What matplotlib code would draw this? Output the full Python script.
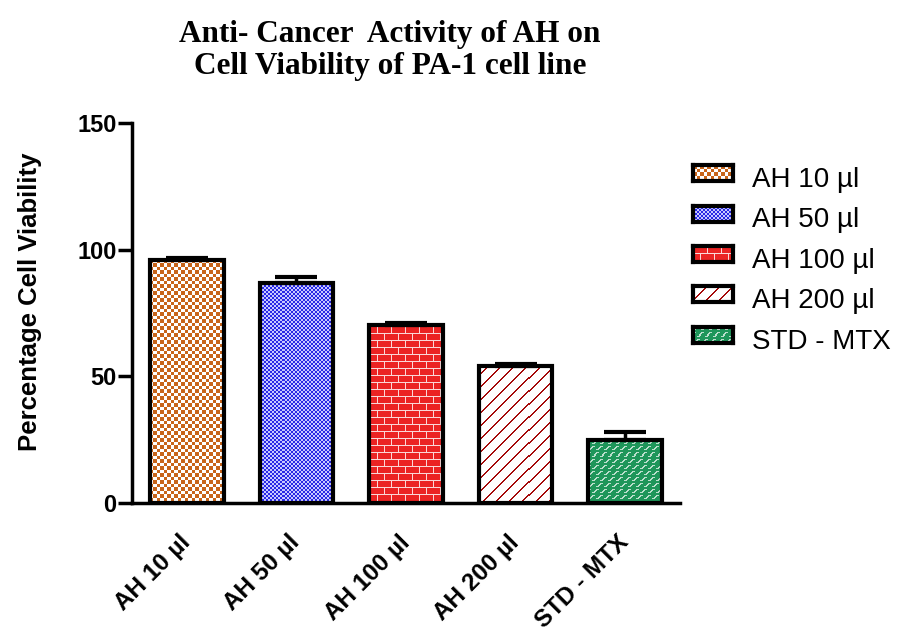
import numpy as np
import matplotlib
matplotlib.use("Agg")
import matplotlib.pyplot as plt

# values
groups = ["AH 10 µl", "AH 50 µl", "AH 100 µl", "AH 200 µl", "STD - MTX"]
viability = [95.8, 86.8, 70.2, 54.0, 25.0]
sem = [1.0, 2.6, 0.8, 0.8, 3.2]
textures = ["checker", "dots", "brick", "diag", "green"]

ORANGE = np.array([200, 100, 25]) / 255
BLUE = np.array([40, 40, 230]) / 255
LBLUE = np.array([200, 200, 255]) / 255
RED = np.array([235, 35, 35]) / 255
PINK = np.array([250, 215, 215]) / 255
DRED = np.array([165, 10, 10]) / 255
GREEN = np.array([30, 150, 90]) / 255
WHITE = np.array([1.0, 1.0, 1.0])


def make_tex(kind, h, w):
    i, j = np.mgrid[0:h, 0:w]
    img = np.ones((h, w, 3))
    if kind == "checker":
        m = ((i * 2 // 7) + (j * 2 // 7)) % 2 == 0
        img[m] = ORANGE
    elif kind == "dots":
        img[:] = BLUE
        m = ((i // 2) + (j // 2)) % 2 == 0
        img[m] = LBLUE
    elif kind == "brick":
        img[:] = RED
        row = i // 7
        m = (i % 7 == 0) | (((j + (row % 2) * 7) % 14) == 0)
        img[m] = PINK
    elif kind == "diag":
        m = ((i + j) % 13) < 2
        img[m] = DRED
    elif kind == "green":
        img[:] = GREEN
        tile = np.array([
            [0, 0, 0, 0, 1, 1, 1, 0],
            [0, 0, 0, 1, 1, 0, 0, 0],
            [0, 0, 1, 1, 0, 0, 0, 0],
            [1, 1, 1, 0, 0, 0, 0, 0],
            [0, 0, 0, 0, 0, 0, 0, 0],
            [0, 0, 0, 0, 0, 0, 0, 0],
        ], dtype=bool)
        th, tw = tile.shape
        m = tile[(i % th), ((j + (i // th) * 4) % tw)]
        img[m] = 0.3 * GREEN + 0.7 * WHITE
    return img


plt.rcParams["font.family"] = ["Liberation Sans", "DejaVu Sans"]

fig = plt.figure(figsize=(8.97, 6.33), dpi=100)
ax = fig.add_axes([132 / 897, 1 - 503 / 633, 548 / 897, 380 / 633])

x = np.arange(len(groups))
bars = ax.bar(x, viability, width=0.67, facecolor="none", edgecolor="black",
              linewidth=3, zorder=3)
ax.errorbar(x, viability, yerr=[np.zeros(len(sem)), sem], fmt="none",
            ecolor="black", elinewidth=2.5, capsize=15, capthick=3, zorder=4)

xlim = (-0.5, 4.5)
ylim = (0, 150)
for b, kind in zip(bars, textures):
    im = ax.imshow(make_tex(kind, 380, 548), extent=(*xlim, *ylim),
                   aspect="auto", interpolation="nearest", zorder=2)
    im.set_clip_path(b)
ax.set_xlim(*xlim)
ax.set_ylim(*ylim)

for s in ["top", "right"]:
    ax.spines[s].set_visible(False)
for s in ["left", "bottom"]:
    ax.spines[s].set_linewidth(2.5)

ax.set_yticks([0, 50, 100, 150])
ax.tick_params(axis="y", length=10, width=2.5, pad=1, labelsize=17)
for t in ax.get_yticklabels():
    t.set_fontweight("bold")
ax.set_xticks(x)
ax.set_xticklabels(groups, rotation=45, ha="right", va="center",
                   rotation_mode="anchor", fontsize=17.5, fontweight="bold")
ax.tick_params(axis="x", length=0, pad=26)

fig.text(30 / 897, 1 - 302 / 633, "Percentage Cell Viability", rotation=90,
         ha="center", va="center", fontsize=18.5, fontweight="bold")

fig.text(390 / 897, 1 - 20 / 633,
         "Anti- Cancer  Activity of AH on\nCell Viability of PA-1 cell line",
         ha="center", va="top", fontsize=22.5, fontweight="bold",
         family=["Liberation Serif", "DejaVu Serif"], linespacing=1.15)

# legend swatches
for k, (name, kind) in enumerate(zip(groups, textures)):
    top = 165 + 40.5 * k
    lax = fig.add_axes([693 / 897, 1 - (top + 16) / 633, 40 / 897, 16 / 633])
    lax.imshow(make_tex(kind, 16, 40), aspect="auto", interpolation="nearest")
    lax.set_xticks([])
    lax.set_yticks([])
    for s in lax.spines.values():
        s.set_linewidth(3)
    fig.text(752 / 897, 1 - (top + 22) / 633, name, ha="left", va="baseline",
             fontsize=20)

fig.savefig("out.png", dpi=100)
